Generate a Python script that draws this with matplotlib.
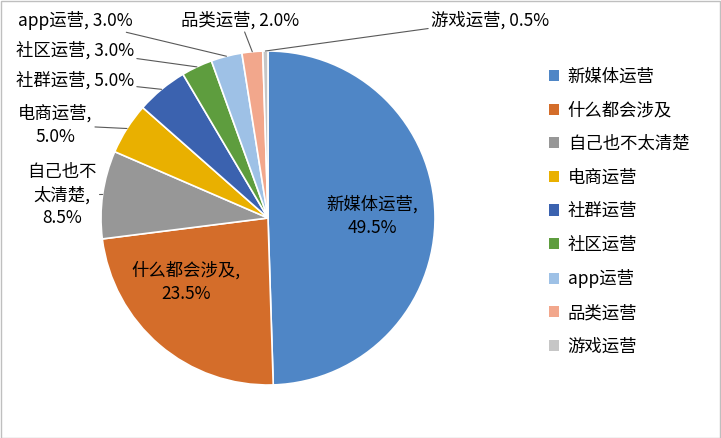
import numpy as np
import matplotlib
matplotlib.use("Agg")
from matplotlib import pyplot as plt
from matplotlib.patches import Rectangle

plt.rcParams['font.family'] = ['Noto Sans CJK SC', 'DejaVu Sans']

categories = ["新媒体运营", "什么都会涉及", "自己也不太清楚", "电商运营", "社群运营",
              "社区运营", "app运营", "品类运营", "游戏运营"]
values = [49.5, 23.5, 8.5, 5.0, 5.0, 3.0, 3.0, 2.0, 0.5]
label_texts = ["新媒体运营,\n49.5%", "什么都会涉及,\n23.5%", "自己也不\n太清楚,\n8.5%",
               "电商运营,\n5.0%", "社群运营, 5.0%", "社区运营, 3.0%", "app运营, 3.0%",
               "品类运营, 2.0%", "游戏运营, 0.5%"]
colors = ["#4F86C6", "#D46D2A", "#979797", "#E9B000", "#3B62AF", "#5E9D3E",
          "#9EC1E6", "#F2A78C", "#C6C6C6"]
# label positions in figure pixels (from top-left)
label_pos = [(372, 216), (186, 282), (62, 195), (55, 125), (75, 80), (75, 50), (75, 20),
             (240, 20), (490, 20)]
inside = [True, True] + [False] * 7

W, H = 721, 438
fig = plt.figure(figsize=(W / 100, H / 100), dpi=100)
fig.patches.append(Rectangle((0.5 / W, 0.5 / H), 1 - 1.5 / W, 1 - 1.5 / H, transform=fig.transFigure,
                             fill=False, edgecolor="#BFBFBF", linewidth=1))

cx, cy, r = 268, 218, 167
ax = fig.add_axes([(cx - r) / W, (H - cy - r) / H, 2 * r / W, 2 * r / H])
wedges, _ = ax.pie(values, colors=colors, startangle=90, counterclock=False, radius=1,
                   wedgeprops=dict(edgecolor="white", linewidth=1.2))
ax.set_xlim(-1, 1)
ax.set_ylim(-1, 1)
ax.set_aspect("equal")

fs = 12.5
for i, w in enumerate(wedges):
    ang = np.deg2rad((w.theta1 + w.theta2) / 2)
    px, py = label_pos[i]
    if inside[i]:
        fig.text(px / W, 1 - py / H, label_texts[i], ha="center", va="center",
                 fontsize=fs, linespacing=1.35)
    else:
        ax.annotate(label_texts[i], xy=(np.cos(ang), np.sin(ang)),
                    xytext=(px / W, 1 - py / H), textcoords="figure fraction",
                    ha="center", va="center", fontsize=fs, linespacing=1.35,
                    arrowprops=dict(arrowstyle="-", color="#595959", lw=0.8,
                                    shrinkA=0, shrinkB=0))

handles = [Rectangle((0, 0), 1, 1, facecolor=c) for c in colors]
fig.legend(handles, categories, loc="upper left", bbox_to_anchor=(533 / W, 1 - 52 / H),
           frameon=False, fontsize=fs, handlelength=0.6, handleheight=0.6,
           labelspacing=0.9, handletextpad=0.5)

fig.savefig("out.png", dpi=100)
